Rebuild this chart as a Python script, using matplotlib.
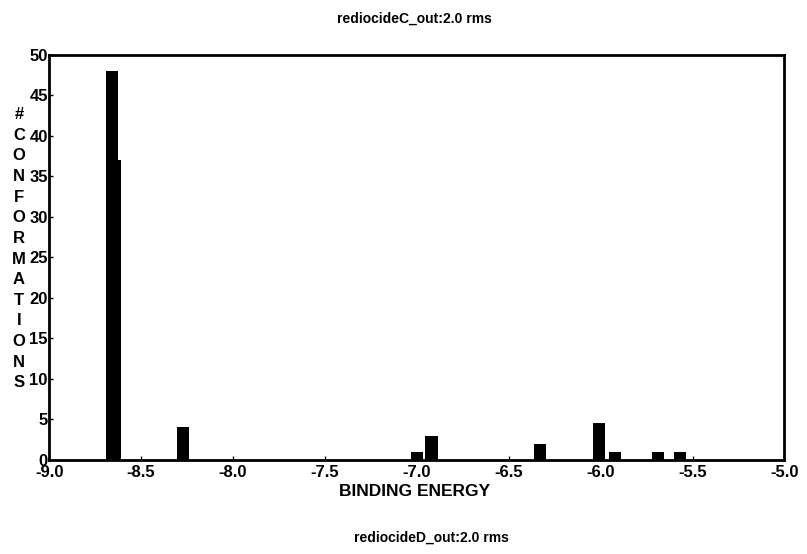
import matplotlib
matplotlib.use("Agg")
import matplotlib.pyplot as plt

# histogram (binding energy bin centre -> count)
energyC = [-8.66, -8.27, -7.00, -6.33, -6.01, -5.69]
countC = [48, 4, 1, 2, 4.5, 1]
energyD = [-8.64, -6.92, -5.92, -5.57]
countD = [37, 3, 1, 1]

BIN_WIDTH = 0.066
xticks = [-9.0, -8.5, -8.0, -7.5, -7.0, -6.5, -6.0, -5.5, -5.0]
yticks = [0, 5, 10, 15, 20, 25, 30, 35, 40, 45, 50]
ylabel_text = "#CONFORMATIONS"

plt.rcParams['font.family'] = ['Liberation Sans', 'DejaVu Sans']

fig = plt.figure(figsize=(8.07, 5.54), dpi=100)
ax = fig.add_axes([0.061, 0.170, 0.911, 0.731])

ax.bar(energyD, countD, width=BIN_WIDTH, color='black', zorder=2)
ax.bar(energyC, countC, width=BIN_WIDTH, color='black', zorder=3)

ax.set_xlim(-9.0, -5.0)
ax.set_ylim(0, 50)
ax.set_xticks(xticks)
ax.set_xticklabels(["%.1f" % t for t in xticks], fontweight='bold', fontsize=12)
ax.set_yticks(yticks)
ax.set_yticklabels([str(t) for t in yticks], fontweight='bold', fontsize=12)
ax.tick_params(axis='both', direction='in', length=3, width=1)
ax.tick_params(axis='x', pad=4)
ax.tick_params(axis='y', pad=1)

for side in ax.spines.values():
    side.set_linewidth(2)

# stacked vertical axis label, one letter per line
fig.text(0.0235, 0.551, "\n".join(ylabel_text), ha='center', va='center',
         multialignment='center', fontsize=12, fontweight='bold', linespacing=1.47)

fig.text(0.514, 0.113, "BINDING ENERGY", ha='center', va='center',
         fontsize=12.5, fontweight='bold')
fig.text(0.514, 0.966, "rediocideC_out:2.0 rms", ha='center', va='center',
         fontsize=10, fontweight='bold')
fig.text(0.535, 0.029, "rediocideD_out:2.0 rms", ha='center', va='center',
         fontsize=10, fontweight='bold')

fig.savefig("out.png", dpi=100, facecolor='white')
